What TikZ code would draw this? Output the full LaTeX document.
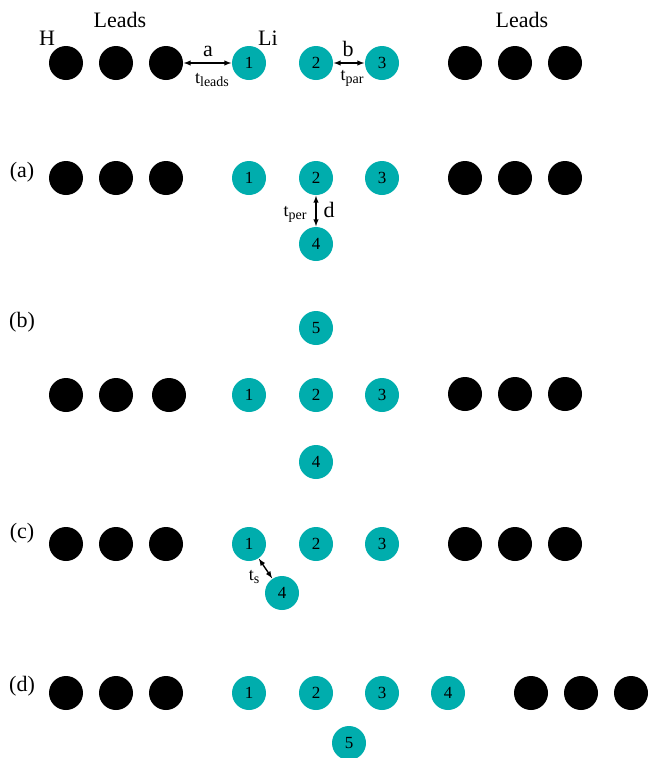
\documentclass[tikz,border=0pt]{standalone}
\usepackage{fontspec}
\setmainfont{Liberation Serif}
\usepackage{xcolor}
\usetikzlibrary{arrows}
\definecolor{lithium}{RGB}{0,173,173}
\newcommand{\hopt}[1]{t\raisebox{-0.35ex}{\fontsize{14}{15}\selectfont #1}}

\begin{document}
\begin{tikzpicture}[x=1pt,y=-1pt,font=\fontsize{17}{19}\selectfont,node distance=50pt,
    lead/.style={circle,fill=black,minimum size=34pt,inner sep=0pt},
    site/.style={circle,fill=lithium,minimum size=34pt,inner sep=0pt},
    big/.style={font=\fontsize{22}{25}\selectfont},
    tlab/.style={font=\fontsize{18}{20}\selectfont,inner sep=1pt},
    hop/.style={latex-latex,line width=1.4pt,shorten <=0.5pt,shorten >=0.5pt}]
    \useasboundingbox (0,0) rectangle (648,758);

    % top row
    \node[lead,name=h1] at (66,63) {};
    \node[lead,name=h2, right of=h1] {};
    \node[lead,name=h3, right of=h2] {};
    \node[site,name=li1] at (249,63) {1};
    \node[site,name=li2] at (316,63) {2};
    \node[site,name=li3] at (382,63) {3};
    \node[lead,name=h4] at (465,63) {};
    \node[lead,name=h5, right of=h4] {};
    \node[lead,name=h6, right of=h5] {};
    \node[big,name=hlab] at (47,38) {H};
    \node[big,name=lileft] at (120,20) {Leads};
    \node[big,name=lilab] at (268,38) {Li};
    \node[big,name=leright] at (522,20) {Leads};
    \node[big,name=alab] at (208,51) {a};
    \node[tlab,name=tleads] at (212,80) {\hopt{leads}};
    \node[big,name=blab] at (348,49) {b};
    \node[tlab,name=tpar] at (352,78) {\hopt{par}};

    % (a)
    \node[big,name=rowa] at (22,172) {(a)};
    \node[lead,name=ah1] at (66,178) {};
    \node[lead,name=ah2, right of=ah1] {};
    \node[lead,name=ah3, right of=ah2] {};
    \node[site,name=ali1] at (249,178) {1};
    \node[site,name=ali2] at (316,178) {2};
    \node[site,name=ali3] at (382,178) {3};
    \node[site,name=ali4, below of=ali2, node distance=66pt] {4};
    \node[lead,name=ah4] at (465,178) {};
    \node[lead,name=ah5, right of=ah4] {};
    \node[lead,name=ah6, right of=ah5] {};
    \node[tlab,name=tper] at (295,214) {\hopt{per}};
    \node[big,name=dlab] at (329,210) {d};

    % (b)
    \node[big,name=rowb] at (22,322) {(b)};
    \node[site,name=bli5] at (316,328) {5};
    \node[lead,name=bh1] at (66,395) {};
    \node[lead,name=bh2, right of=bh1] {};
    \node[lead,name=bh3] at (169,395) {};
    \node[site,name=bli1] at (249,395) {1};
    \node[site,name=bli2] at (316,395) {2};
    \node[site,name=bli3] at (382,395) {3};
    \node[site,name=bli4, below of=bli2, node distance=67pt] {4};
    \node[lead,name=bh4] at (465,394) {};
    \node[lead,name=bh5, right of=bh4] {};
    \node[lead,name=bh6, right of=bh5] {};

    % (c)
    \node[big,name=rowc] at (22,533) {(c)};
    \node[lead,name=ch1] at (66,544) {};
    \node[lead,name=ch2, right of=ch1] {};
    \node[lead,name=ch3, right of=ch2] {};
    \node[site,name=cli1] at (249,544) {1};
    \node[site,name=cli2] at (316,544) {2};
    \node[site,name=cli3] at (382,544) {3};
    \node[site,name=cli4] at (282,593) {4};
    \node[lead,name=ch4] at (465,544) {};
    \node[lead,name=ch5, right of=ch4] {};
    \node[lead,name=ch6, right of=ch5] {};
    \node[tlab,name=ts] at (254,577) {\hopt{s}};

    % (d)
    \node[big,name=rowd] at (22,686) {(d)};
    \node[lead,name=dh1] at (66,693) {};
    \node[lead,name=dh2, right of=dh1] {};
    \node[lead,name=dh3, right of=dh2] {};
    \node[site,name=dli1] at (249,693) {1};
    \node[site,name=dli2] at (316,693) {2};
    \node[site,name=dli3] at (382,693) {3};
    \node[site,name=dli4] at (448,693) {4};
    \node[site,name=dli5] at (349,743) {5};
    \node[lead,name=dh4] at (531,693) {};
    \node[lead,name=dh5, right of=dh4] {};
    \node[lead,name=dh6, right of=dh5] {};

    \path[hop] (h3) edge (li1)
               (li2) edge (li3)
               (ali2) edge (ali4)
               (cli1) edge (cli4);
\end{tikzpicture}
\end{document}
